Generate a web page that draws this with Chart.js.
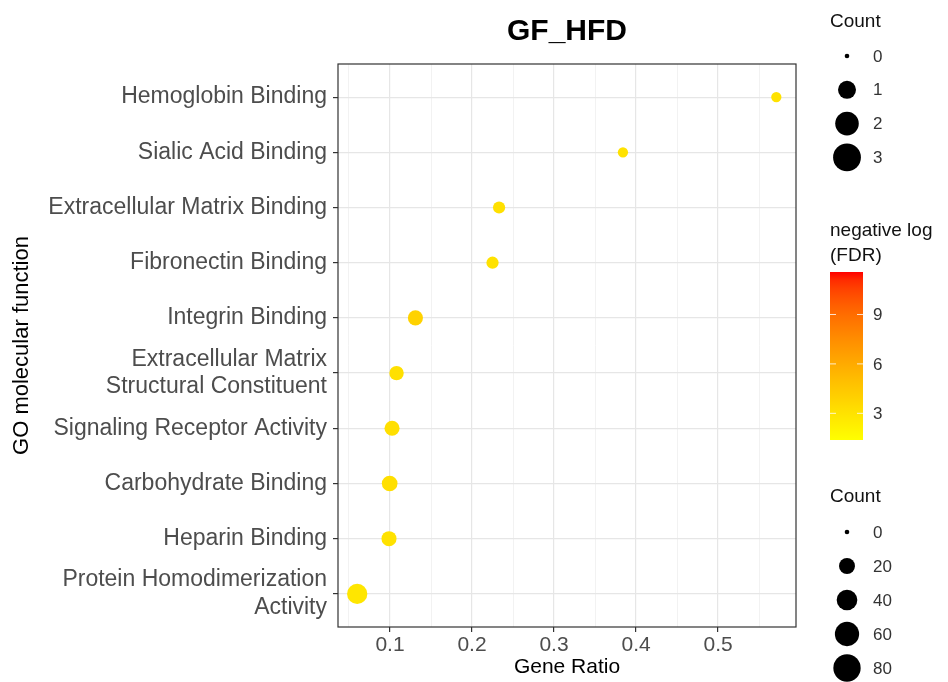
<!DOCTYPE html>
<html>
<head>
<meta charset="utf-8">
<script src="https://cdn.jsdelivr.net/npm/chart.js@4"></script>
<style>
  body { margin: 0; background: #fff; }
  #wrap { position: relative; width: 948px; height: 682px; }
</style>
</head>
<body>
<div id="wrap"><canvas id="dotChart"></canvas></div>
<script>
// --- DATA ---
const categories = [
  "Hemoglobin Binding",
  "Sialic Acid Binding",
  "Extracellular Matrix Binding",
  "Fibronectin Binding",
  "Integrin Binding",
  "Extracellular Matrix\nStructural Constituent",
  "Signaling Receptor Activity",
  "Carbohydrate Binding",
  "Heparin Binding",
  "Protein Homodimerization\nActivity"
];
const geneRatio = [0.571, 0.384, 0.233, 0.225, 0.131, 0.108, 0.1025, 0.0996, 0.0988, 0.060];
const counts = [5, 5, 9, 9, 17, 15, 17, 19, 17, 38];
const negLogFDR = [3.0, 3.0, 3.1, 3.0, 3.9, 3.1, 3.2, 3.2, 3.0, 2.8];

const xMajor = [0.1, 0.2, 0.3, 0.4, 0.5];
const xMinor = [0.05, 0.15, 0.25, 0.35, 0.45, 0.55];

const countLegendA = [0, 1, 2, 3];
const countLegendB = [0, 20, 40, 60, 80];
const fdrTicks = [3, 6, 9];
const fdrRange = [1.38, 11.58];

const FONT = "'Liberation Sans', Arial, sans-serif";

// --- COLOUR SCALE (yellow -> red, interpolated in Lab like ggplot) ---
function lin(c) { c /= 255; return c <= 0.04045 ? c / 12.92 : Math.pow((c + 0.055) / 1.055, 2.4); }
function unlin(c) { c = c <= 0.0031308 ? 12.92 * c : 1.055 * Math.pow(c, 1 / 2.4) - 0.055; return Math.max(0, Math.min(255, Math.round(c * 255))); }
function rgbToLab(rgb) {
  const R = lin(rgb[0]), G = lin(rgb[1]), B = lin(rgb[2]);
  const X = (0.4124 * R + 0.3576 * G + 0.1805 * B) / 0.95047;
  const Y = 0.2126 * R + 0.7152 * G + 0.0722 * B;
  const Z = (0.0193 * R + 0.1192 * G + 0.9505 * B) / 1.08883;
  const f = t => t > 0.008856 ? Math.cbrt(t) : 7.787 * t + 16 / 116;
  const fx = f(X), fy = f(Y), fz = f(Z);
  return [116 * fy - 16, 500 * (fx - fy), 200 * (fy - fz)];
}
function labToRgb(lab) {
  const fy = (lab[0] + 16) / 116, fx = fy + lab[1] / 500, fz = fy - lab[2] / 200;
  const g = t => t * t * t > 0.008856 ? t * t * t : (t - 16 / 116) / 7.787;
  const X = g(fx) * 0.95047, Y = g(fy), Z = g(fz) * 1.08883;
  const R = 3.2406 * X - 1.5372 * Y - 0.4986 * Z;
  const G = -0.9689 * X + 1.8758 * Y + 0.0415 * Z;
  const B = 0.0557 * X - 0.2040 * Y + 1.0570 * Z;
  return [unlin(R), unlin(G), unlin(B)];
}
const labLow = rgbToLab([255, 255, 0]);
const labHigh = rgbToLab([255, 0, 0]);
function colorFor(v) {
  let t = (v - fdrRange[0]) / (fdrRange[1] - fdrRange[0]);
  t = Math.max(0, Math.min(1, t));
  const lab = labLow.map((l, i) => l + (labHigh[i] - l) * t);
  const c = labToRgb(lab);
  return `rgb(${c[0]}, ${c[1]}, ${c[2]})`;
}

// size scales
const sizePlot = c => 2.3 + 1.27 * Math.sqrt(c);
const sizeLegendA = c => 2.3 + 6.7 * Math.sqrt(c);

// --- PLUGIN: panel border + side legends ---
const decor = {
  id: "decor",
  beforeDatasetsDraw(chart) {
    const { ctx, chartArea: a } = chart;
    ctx.save();
    ctx.strokeStyle = "#333333";
    ctx.lineWidth = 1.2;
    ctx.strokeRect(a.left, a.top, a.right - a.left, a.bottom - a.top);
    ctx.restore();
  },
  afterDraw(chart) {
    const ctx = chart.ctx;
    const lx = 830, dotX = 847, labX = 873;
    ctx.save();
    ctx.textBaseline = "alphabetic";
    ctx.textAlign = "left";

    // Count legend (top)
    ctx.fillStyle = "#111";
    ctx.font = `19px ${FONT}`;
    ctx.fillText("Count", lx, 27);
    countLegendA.forEach((v, i) => {
      const y = 56 + i * 33.8;
      ctx.fillStyle = "#000";
      ctx.beginPath();
      ctx.arc(dotX, y, sizeLegendA(v), 0, Math.PI * 2);
      ctx.fill();
      ctx.fillStyle = "#333";
      ctx.font = `17px ${FONT}`;
      ctx.textBaseline = "middle";
      ctx.fillText(String(v), labX, y + 1);
      ctx.textBaseline = "alphabetic";
    });

    // colour bar
    ctx.fillStyle = "#111";
    ctx.font = `19px ${FONT}`;
    ctx.fillText("negative log", lx, 236);
    ctx.fillText("(FDR)", lx, 261);
    const barTop = 272, barBot = 440, barW = 33;
    const grad = ctx.createLinearGradient(0, barBot, 0, barTop);
    for (let s = 0; s <= 20; s++) {
      grad.addColorStop(s / 20, colorFor(fdrRange[0] + (s / 20) * (fdrRange[1] - fdrRange[0])));
    }
    ctx.fillStyle = grad;
    ctx.fillRect(lx, barTop, barW, barBot - barTop);
    fdrTicks.forEach(v => {
      const y = barBot - (v - fdrRange[0]) / (fdrRange[1] - fdrRange[0]) * (barBot - barTop);
      ctx.strokeStyle = "rgba(255,255,255,0.8)";
      ctx.lineWidth = 1;
      ctx.beginPath();
      ctx.moveTo(lx, y); ctx.lineTo(lx + 6, y);
      ctx.moveTo(lx + barW - 6, y); ctx.lineTo(lx + barW, y);
      ctx.stroke();
      ctx.fillStyle = "#333";
      ctx.font = `17px ${FONT}`;
      ctx.textBaseline = "middle";
      ctx.fillText(String(v), labX, y + 1);
      ctx.textBaseline = "alphabetic";
    });

    // Count legend (bottom)
    ctx.fillStyle = "#111";
    ctx.font = `19px ${FONT}`;
    ctx.fillText("Count", lx, 502);
    countLegendB.forEach((v, i) => {
      const y = 532 + i * 34;
      ctx.fillStyle = "#000";
      ctx.beginPath();
      ctx.arc(dotX, y, sizePlot(v), 0, Math.PI * 2);
      ctx.fill();
      ctx.fillStyle = "#333";
      ctx.font = `17px ${FONT}`;
      ctx.textBaseline = "middle";
      ctx.fillText(String(v), labX, y + 1);
      ctx.textBaseline = "alphabetic";
    });
    ctx.restore();
  }
};

// --- BUILD CHART ---
const points = categories.map((c, i) => ({ x: geneRatio[i], y: i, r: sizePlot(counts[i]) }));
const colors = negLogFDR.map(colorFor);

new Chart(document.getElementById("dotChart"), {
  type: "bubble",
  data: {
    datasets: [{
      data: points,
      backgroundColor: colors,
      borderWidth: 0,
      hoverBorderWidth: 0
    }]
  },
  options: {
    responsive: true,
    maintainAspectRatio: false,
    animation: false,
    layout: { padding: { left: 0, right: 152, top: 0, bottom: 0 } },
    plugins: {
      legend: { display: false },
      tooltip: { enabled: false },
      title: {
        display: true,
        text: "GF_HFD",
        fullSize: false,
        color: "#000",
        font: { family: FONT, size: 30, weight: "bold" },
        padding: { top: 14, bottom: 14 }
      }
    },
    scales: {
      x: {
        type: "linear",
        min: 0.0366,
        max: 0.595,
        afterBuildTicks: s => { s.ticks = xMajor.concat(xMinor).sort((a, b) => a - b).map(v => ({ value: v })); },
        afterFit: s => { s.height = 55; },
        border: { display: false },
        grid: {
          color: ctx => xMajor.includes(ctx.tick && ctx.tick.value) ? "#e6e6e6" : "#efefef",
          lineWidth: ctx => xMajor.includes(ctx.tick && ctx.tick.value) ? 1.2 : 0.8,
          tickLength: 5,
          tickColor: ctx => xMajor.includes(ctx.tick && ctx.tick.value) ? "#333" : "rgba(0,0,0,0)",
          tickWidth: 1.2
        },
        ticks: {
          padding: 1,
          color: "#4d4d4d",
          font: { family: FONT, size: 21 },
          autoSkip: false,
          maxRotation: 0,
          callback: v => xMajor.includes(v) ? v.toFixed(1) : ""
        },
        title: {
          display: true,
          text: "Gene Ratio",
          color: "#000",
          font: { family: FONT, size: 21 },
          padding: { top: 0, bottom: 2 }
        }
      },
      y: {
        type: "linear",
        reverse: true,
        min: -0.6,
        max: categories.length - 0.4,
        afterBuildTicks: s => { s.ticks = categories.map((c, i) => ({ value: i })); },
        afterFit: s => { s.width = 338; },
        border: { display: false },
        grid: {
          color: "#e6e6e6",
          lineWidth: 1.2,
          tickLength: 5,
          tickColor: "#333",
          tickWidth: 1.2
        },
        ticks: {
          padding: 6,
          color: "#4d4d4d",
          font: { family: FONT, size: 23 },
          autoSkip: false,
          callback: v => categories[v] ? categories[v].split("\n") : ""
        },
        title: {
          display: true,
          text: "GO molecular function",
          color: "#000",
          font: { family: FONT, size: 22 },
          padding: { top: 9, bottom: 0 }
        }
      }
    }
  },
  plugins: [decor]
});
</script>
</body>
</html>
